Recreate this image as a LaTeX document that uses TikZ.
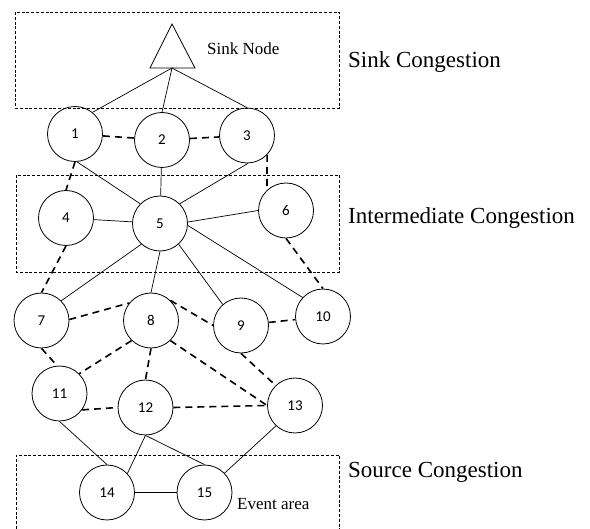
\documentclass[tikz,border=0pt]{standalone}
\usepackage{fontspec}
\setmainfont{Liberation Serif}
\newfontfamily\numfont{Carlito}
\begin{document}
\begin{tikzpicture}[x=1pt,y=-1pt,
  nd/.style={draw,circle,line width=0.8pt,minimum size=55pt,inner sep=0pt,font=\numfont\fontsize{15}{15}\selectfont},
  link/.style={line width=0.7pt},
  weak/.style={line width=1.6pt,dash pattern=on 7pt off 5pt},
  zone/.style={line width=0.7pt,dash pattern=on 3pt off 1.8pt},
  zonelabel/.style={anchor=base west,inner sep=0pt,font=\fontsize{23}{23}\selectfont},
  note/.style={anchor=base west,inner sep=0pt,font=\fontsize{17}{17}\selectfont}]
\useasboundingbox (0,0) rectangle (590,529);

% congestion zones
\draw[zone] (15,12) rectangle (339,108);
\draw[zone] (16,175) rectangle (339,272);
\draw[zone] (16,529) -- (16,455) -- (339,455) -- (339,529);

\node[zonelabel] (lsink) at (348,68) {Sink Congestion};
\node[zonelabel] (lmid) at (348,224) {Intermediate Congestion};
\node[zonelabel] (lsrc) at (348,478) {Source Congestion};

% sink node
\coordinate (apex) at (172,24);
\coordinate (bl) at (150,68);
\coordinate (br) at (195,68);
\coordinate (sb) at (172,68);
\draw[line width=0.8pt] (apex) -- (bl) -- (br) -- cycle;
\node[note] (lsn) at (207,55) {Sink Node};

% sensor nodes
\node[nd] (n1) at (75,134) {1};
\node[nd] (n2) at (162,140) {2};
\node[nd] (n3) at (247,135.5) {3};
\node[nd] (n4) at (66,218) {4};
\node[nd] (n5) at (160,223.5) {5};
\node[nd] (n6) at (286,210.5) {6};
\node[nd] (n7) at (41.5,320.5) {7};
\node[nd] (n8) at (151,320.5) {8};
\node[nd] (n9) at (241,325.5) {9};
\node[nd] (n10) at (323,316.5) {10};
\node[nd] (n11) at (59.5,393.5) {11};
\node[nd] (n12) at (145.5,407.5) {12};
\node[nd] (n13) at (295,405.5) {13};
\node[nd] (n14) at (107,492.5) {14};
\node[nd] (n15) at (204.5,492.5) {15};

\node[note] (lev) at (237,510) {Event area};

% solid links
\draw[link] (sb) -- (n1.51);
\draw[link] (sb) -- (n2.north);
\draw[link] (sb) -- (n3.north);
\draw[link] (n1.-86) -- (n5.135);
\draw[link] (n2) -- (n5);
\draw[link] (n3.-88) -- (n5.45);
\draw[link] (n4) -- (n5);
\draw[link] (n5.3) -- (n6.180);
\draw[link] (n5.228) -- (n7.45);
\draw[link] (n5.south) -- (n8.north);
\draw[link] (n5.-48) -- (n9.131);
\draw[link] (n5.-4) -- (n10.137);
\draw[link] (n11.south) -- (n14.north);
\draw[link] (n12.south) -- (n14.43);
\draw[link] (n12.south) -- (n15.north);
\draw[link] (n13.227) -- (n15.44);
\draw[link] (n14) -- (n15);

% dashed links
\draw[weak] (n1) -- (n2);
\draw[weak] (n2) -- (n3);
\draw[weak] (n1.south) -- (n4.north);
\draw[weak] (n3.-44) -- (n6.133);
\draw[weak] (n4.south) -- (n7.north);
\draw[weak] (n6.south) -- (n10.north);
\draw[weak] (n7.2) -- (n8.141);
\draw[weak] (n8.46) -- (n9.180);
\draw[weak] (n9) -- (n10);
\draw[weak] (n7.south) -- (n11.95);
\draw[weak] (n8.226) -- (n11.45);
\draw[weak] (n8.south) -- (n12.north);
\draw[weak] (n8.-46) -- (n13.180);
\draw[weak] (n9.south) -- (n13.134);
\draw[weak] (n11.-36) -- (n12.180);
\draw[weak] (n12.east) -- (n13.west);
\end{tikzpicture}
\end{document}
